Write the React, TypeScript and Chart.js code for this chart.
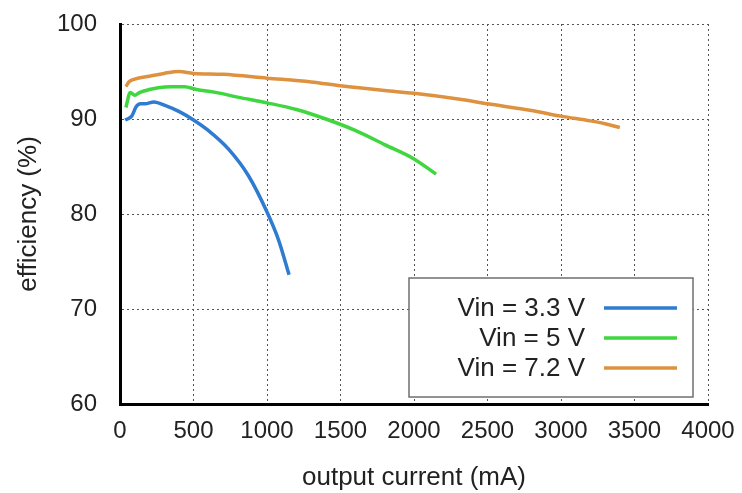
import React, { useEffect, useRef } from "react";
import { Chart, registerables } from "chart.js";

Chart.register(...registerables);

const seriesLabels = ["Vin = 3.3 V", "Vin = 5 V", "Vin = 7.2 V"];
const seriesColors = ["#2f7bd2", "#3fd63f", "#de9240"];

const blueX = [35, 80, 110, 140, 170, 230, 310, 400, 500, 600, 740, 875, 1000, 1080, 1150];
const blueY = [89.9, 90.3, 91.3, 91.6, 91.6, 91.8, 91.4, 90.8, 89.9, 88.8, 86.8, 84.0, 80.2, 77.2, 73.6];

const greenX = [40, 70, 100, 135, 200, 260, 350, 440, 520, 650, 800, 1000, 1200, 1400, 1600, 1800, 2000, 2150];
const greenY = [91.2, 92.8, 92.5, 92.8, 93.1, 93.3, 93.4, 93.4, 93.1, 92.8, 92.3, 91.7, 91.0, 90.0, 88.8, 87.3, 85.8, 84.2];

const orangeX = [40, 60, 100, 200, 300, 400, 500, 700, 1000, 1300, 1500, 1800, 2000, 2300, 2500, 2800, 3000, 3200, 3300, 3400];
const orangeY = [93.4, 93.9, 94.2, 94.5, 94.8, 95.0, 94.8, 94.7, 94.3, 93.9, 93.5, 93.0, 92.7, 92.1, 91.6, 90.9, 90.3, 89.8, 89.5, 89.1];

const xTitle = "output current (mA)";
const yTitle = "efficiency (%)";

const FONT = "'Liberation Sans', Arial, Helvetica, sans-serif";

function toPoints(xs: number[], ys: number[]) {
  return xs.map((x, i) => ({ x, y: ys[i] }));
}

const legendPlugin = {
  id: "boxLegend",
  afterDatasetsDraw(chart: any) {
    const { ctx, chartArea } = chart;
    const w = 284;
    const h = 119;
    const left = chartArea.right - 15 - w;
    const top = chartArea.bottom - 7 - h;
    ctx.save();
    ctx.fillStyle = "#ffffff";
    ctx.fillRect(left, top, w, h);
    ctx.strokeStyle = "#6f6f6f";
    ctx.lineWidth = 1.5;
    ctx.strokeRect(left, top, w, h);
    ctx.font = `26px ${FONT}`;
    ctx.textAlign = "right";
    ctx.textBaseline = "middle";
    chart.data.datasets.forEach((ds: any, i: number) => {
      const y = top + 30 + i * 30;
      ctx.fillStyle = "#222222";
      ctx.fillText(ds.label, left + 176, y + 1);
      ctx.strokeStyle = ds.borderColor;
      ctx.lineWidth = 3.5;
      ctx.beginPath();
      ctx.moveTo(left + 195, y);
      ctx.lineTo(left + 268, y);
      ctx.stroke();
    });
    ctx.restore();
  },
};

export default function App() {
  const canvasRef = useRef<HTMLCanvasElement | null>(null);

  useEffect(() => {
    if (!canvasRef.current) return;
    const chart = new Chart(canvasRef.current, {
      type: "line",
      data: {
        datasets: [
          { label: seriesLabels[0], data: toPoints(blueX, blueY), borderColor: seriesColors[0] },
          { label: seriesLabels[1], data: toPoints(greenX, greenY), borderColor: seriesColors[1] },
          { label: seriesLabels[2], data: toPoints(orangeX, orangeY), borderColor: seriesColors[2] },
        ].map((d) => ({
          ...d,
          borderWidth: 3.5,
          pointRadius: 0,
          fill: false,
          cubicInterpolationMode: "monotone" as const,
        })),
      },
      options: {
        responsive: false,
        animation: false,
        events: [],
        layout: { padding: { left: 0, top: 24, right: 34, bottom: 0 } },
        plugins: { legend: { display: false }, tooltip: { enabled: false } },
        scales: {
          x: {
            type: "linear",
            min: 0,
            max: 4000,
            afterFit: (s: any) => {
              s.height = 89;
              s.paddingLeft = 0;
              s.paddingRight = 0;
            },
            ticks: {
              stepSize: 500,
              padding: 13,
              color: "#222222",
              font: { family: FONT, size: 24 },
              maxRotation: 0,
              callback: (v: any) => String(v),
            },
            grid: { color: "#555555", lineWidth: 1, drawTicks: false },
            border: { display: true, color: "#000000", width: 3, dash: [2, 3] },
            title: {
              display: true,
              text: xTitle,
              color: "#222222",
              font: { family: FONT, size: 26 },
              padding: { top: 0, bottom: 0 },
            },
          },
          y: {
            type: "linear",
            min: 60,
            max: 100,
            afterFit: (s: any) => {
              s.width = 120;
              s.paddingTop = 0;
              s.paddingBottom = 0;
            },
            ticks: {
              stepSize: 10,
              padding: 23,
              color: "#222222",
              font: { family: FONT, size: 24 },
              callback: (v: any) => String(v),
            },
            grid: { color: "#555555", lineWidth: 1, drawTicks: false },
            border: { display: true, color: "#000000", width: 3, dash: [2, 3] },
            title: {
              display: true,
              text: yTitle,
              color: "#222222",
              font: { family: FONT, size: 26 },
              padding: { top: 13, bottom: 0 },
            },
          },
        },
      },
      plugins: [legendPlugin],
    } as any);
    return () => chart.destroy();
  }, []);

  return (
    <div style={{ position: "fixed", left: 0, top: 0, width: 742, height: 493, background: "#ffffff" }}>
      <canvas ref={canvasRef} width={742} height={493} />
    </div>
  );
}
